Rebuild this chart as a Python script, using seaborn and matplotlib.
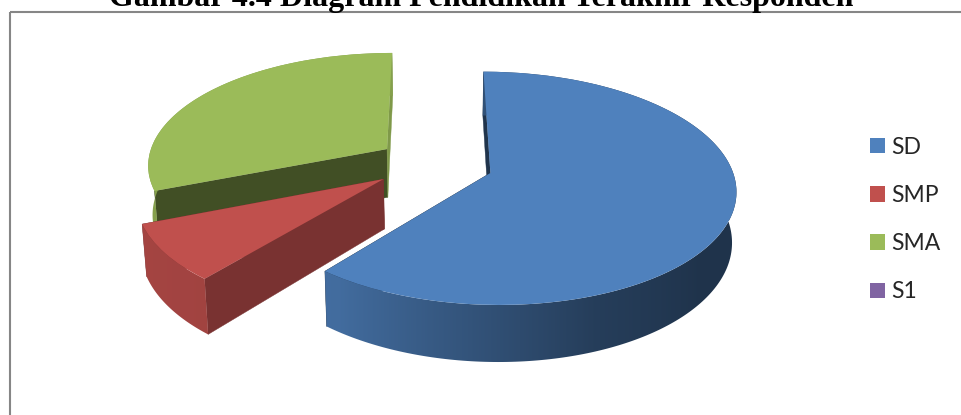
import numpy as np
import matplotlib
matplotlib.use("Agg")
import matplotlib.pyplot as plt
import matplotlib.transforms as mtrans
from matplotlib.patches import Polygon
from matplotlib.path import Path
import seaborn as sns

TITLE = "Gambar 4.4 Diagram Pendidikan Terakhir Responden"
categories = ["SD", "SMP", "SMA", "S1"]
values = [61, 8, 31, 0]
palette = ["#4F81BD", "#C0504D", "#9BBB59", "#8064A2"]
explode = [0.26, 0.24, 0.225, 0.25]

CX, CY, RX, RY, K = 431.0, 163.0, 240.0, 112.0, 0.13
DEPTH = 49.0
VX, SHRINK = 440.0, 0.985

sns.set_style("white")
plt.rcParams["font.family"] = ["Lato", "DejaVu Sans"]


class Perspective(mtrans.Transform):
    input_dims = output_dims = 2
    has_inverse = False

    def transform_non_affine(self, pts):
        pts = np.asarray(pts, float)
        w = 1 + K * pts[:, 1]
        return np.column_stack([CX + RX * pts[:, 0] / w, CY - RY * pts[:, 1] / w])

    def transform_path_non_affine(self, path):
        return Path(self.transform_non_affine(path.vertices), path.codes)


persp = Perspective()


def top(pts):
    return persp.transform_non_affine(pts)


def bottom(pts):
    t = top(pts)
    w = 1 + K * np.asarray(pts)[:, 1]
    return np.column_stack([VX + (t[:, 0] - VX) * SHRINK, t[:, 1] + DEPTH / w])


def shade(hex_color, f):
    rgb = np.array(matplotlib.colors.to_rgb(hex_color))
    return tuple(np.clip(rgb * f, 0, 1))


fig = plt.figure(figsize=(9.62, 4.15), dpi=100, facecolor="white")
ax = fig.add_axes([0, 0, 1, 1])
wedges, _ = ax.pie(values, explode=explode, colors=palette, startangle=90,
                   counterclock=False, radius=1.0, wedgeprops={"linewidth": 0})
ax.set_aspect("auto")

draw_order = {0: 3, 1: 2, 2: 1, 3: 0}
for i, w in enumerate(wedges):
    base_z = draw_order[i] * 10
    w.set_transform(persp + ax.transData)
    w.set_zorder(base_z + 6)
    w.set_clip_on(False)
    if values[i] == 0:
        w.set_visible(False)
        continue
    cx0, cy0 = w.center
    th = np.radians(np.linspace(w.theta1, w.theta2, 240))
    rim = np.column_stack([cx0 + np.cos(th), cy0 + np.sin(th)])
    rt, rb = top(rim), bottom(rim)

    # outer wall: a horizontal gradient clipped to the wall's outline
    cw = (90 - np.degrees(th)) % 360
    fac = np.interp(cw, [0, 130, 160, 216, 250, 360],
                    [0.40, 0.40, 0.48, 0.84, 0.86, 0.86])
    front = (cw >= 90) & (cw <= 270)
    xs = rt[front, 0]
    order = np.argsort(xs)
    grid = np.linspace(rt[:, 0].min() - 6, rt[:, 0].max() + 6, 400)
    f_grid = np.interp(grid, xs[order], fac[front][order])
    rgb = np.array(matplotlib.colors.to_rgb(palette[i]))
    img = (rgb[None, :] * f_grid[:, None])[None, :, :]
    ys = np.r_[rt[:, 1], rb[:, 1]]
    im = ax.imshow(img, extent=(grid[0], grid[-1], ys.max() + 2, ys.min() - 2),
                   aspect="auto", interpolation="bilinear", zorder=base_z + 3)
    outline = Polygon(np.vstack([rt, rb[::-1]]), closed=True, transform=ax.transData,
                      facecolor="none", edgecolor="none")
    ax.add_patch(outline)
    im.set_clip_path(outline)

    # the two radial cut faces
    apex = np.array([[cx0, cy0]])
    at, ab = top(apex)[0], bottom(apex)[0]
    near_f = {0: 0.40, 1: 0.63, 2: 0.42}[i]
    far_f = {0: 0.40, 1: 0.63, 2: 0.82}[i]
    for end, f in ((0, far_f), (-1, near_f)):
        face = [at, rt[end], rb[end], ab]
        ax.fill(*zip(*face), color=shade(palette[i], f), lw=0.3, zorder=base_z + (0 if end else 1))

ax.set_xlim(0, 962)
ax.set_ylim(415, 0)
ax.set_axis_off()

# frame
ax.hlines(12, 10, 962, color="#868686", lw=1.5, zorder=50)
ax.vlines(10, 12, 415, color="#868686", lw=1.5, zorder=50)

fig.text(481 / 962, 1 - 6 / 415, TITLE, family=["Liberation Serif"], weight="bold",
         fontsize=23, ha="center", va="baseline", color="black")

leg = ax.legend(wedges, categories, loc="center left",
                bbox_to_anchor=(870, 219.5), bbox_transform=ax.transData,
                frameon=False, fontsize=16.5, handlelength=0.655, handleheight=0.655,
                handletextpad=0.26, labelspacing=1.19, borderpad=0, borderaxespad=0)
for h, c in zip(leg.legend_handles, palette):
    h.set_visible(True)
    h.set_facecolor(c)
leg.set_zorder(60)

fig.savefig("out.png", dpi=100, facecolor="white")
